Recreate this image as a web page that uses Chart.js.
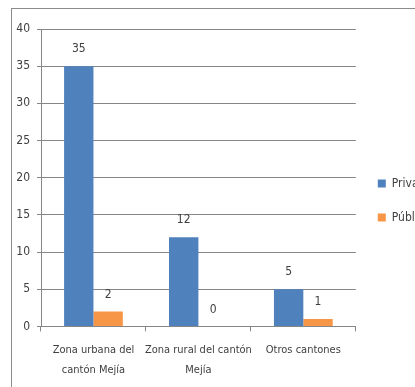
<!DOCTYPE html>
<html>
<head>
<meta charset="utf-8">
<script src="https://cdn.jsdelivr.net/npm/chart.js"></script>
<style>
  html, body { margin: 0; padding: 0; background: #fff; overflow: hidden; }
  #box {
    position: absolute; left: 11px; top: 8px;
    width: 430px; height: 395px;
    border: 1px solid #8c8c8c;
  }
</style>
</head>
<body>
<div id="box"><canvas id="chart"></canvas></div>
<script>
const categories = [["Zona urbana del", "cantón Mejía"], ["Zona rural del cantón", "Mejía"], ["Otros cantones"]];
const privada = [35, 12, 5];
const publica = [2, 0, 1];
const yTicks = [0, 5, 10, 15, 20, 25, 30, 35, 40];

const FONT = '"Liberation Sans Narrow", "DejaVu Sans Condensed", sans-serif';
Chart.defaults.font.family = FONT;
Chart.defaults.color = '#404040';

// numbers above the bars
const barValues = {
  id: 'barValues',
  afterDatasetsDraw(chart) {
    const ctx = chart.ctx;
    ctx.save();
    ctx.font = '12px ' + FONT;
    ctx.fillStyle = '#404040';
    ctx.textAlign = 'center';
    ctx.textBaseline = 'middle';
    chart.data.datasets.forEach((ds, i) => {
      chart.getDatasetMeta(i).data.forEach((bar, j) => {
        ctx.fillText(ds.data[j], bar.x, bar.y - 17);
      });
    });
    ctx.restore();
  }
};

new Chart(document.getElementById('chart'), {
  type: 'bar',
  data: {
    labels: categories,
    datasets: [
      { label: 'Privada', data: privada, backgroundColor: '#4F81BD' },
      { label: 'Pública', data: publica, backgroundColor: '#F79646' }
    ]
  },
  options: {
    responsive: true,
    maintainAspectRatio: false,
    animation: false,
    layout: { padding: { top: 20, left: 0, right: 0, bottom: 15 } },
    datasets: { bar: { categoryPercentage: 0.56, barPercentage: 1 } },
    plugins: {
      legend: {
        position: 'right',
        align: 'start',
        // empty title only pushes the legend entries down to mid height
        title: { display: true, text: ' ', font: { size: 12 }, padding: { top: 0, bottom: 112 } },
        labels: {
          boxWidth: 8, boxHeight: 8, padding: 22,
          font: { size: 12 }, color: '#404040'
        }
      },
      tooltip: { enabled: false }
    },
    scales: {
      x: {
        grid: { offset: true, drawOnChartArea: false, tickLength: 5, color: '#868686' },
        border: { color: '#868686' },
        ticks: { font: { size: 11, lineHeight: 1.8 }, maxRotation: 0, autoSkip: false, padding: 9 }
      },
      y: {
        min: 0, max: 40,
        afterBuildTicks: axis => { axis.ticks = yTicks.map(v => ({ value: v })); },
        afterFit: axis => { axis.width = 29; },
        grid: { color: '#868686', tickLength: 4 },
        border: { color: '#868686' },
        ticks: { font: { size: 12 }, padding: 7 }
      }
    }
  },
  plugins: [barValues]
});
</script>
</body>
</html>
